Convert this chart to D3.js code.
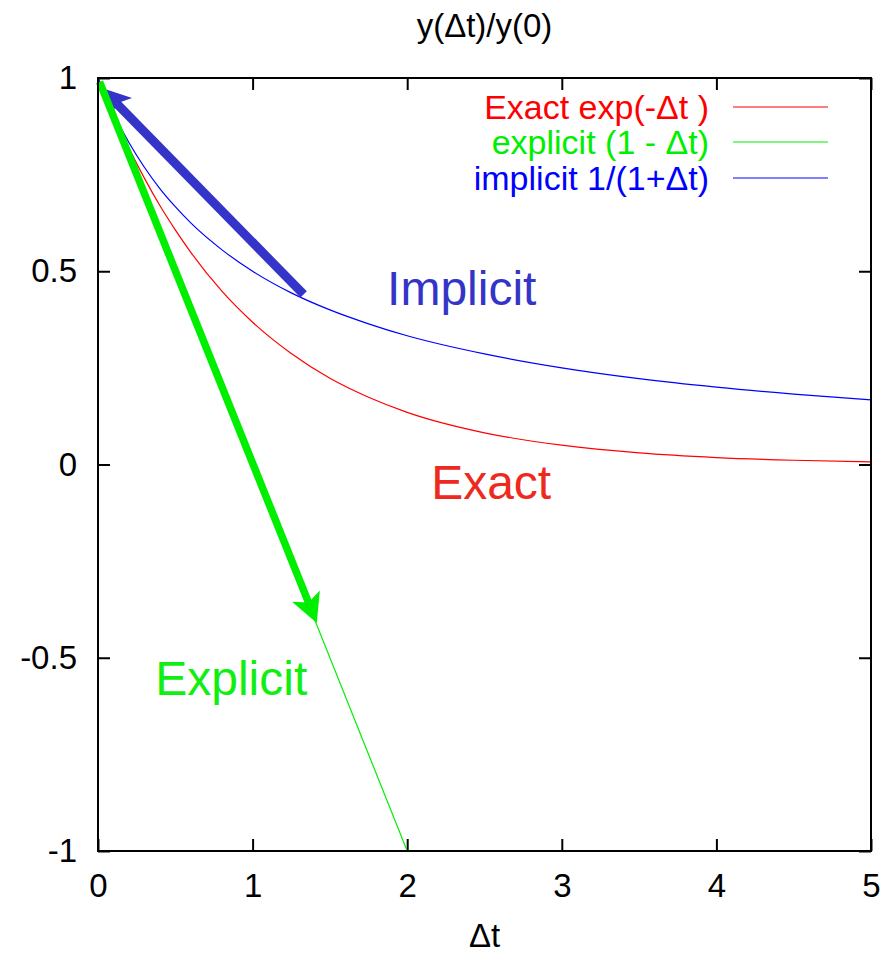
<!DOCTYPE html>
<html>
<head>
<meta charset="utf-8">
<script src="https://cdn.jsdelivr.net/npm/d3@7"></script>
<style>
  html, body { margin: 0; padding: 0; background: #ffffff; }
  svg { display: block; font-family: "Liberation Sans", Arial, Helvetica, sans-serif; }
</style>
</head>
<body>
<svg id="chart" width="890" height="953"></svg>
<script>
// Sampled Δt values and the three decay curves y(Δt)/y(0)
const dt       = [0, 0.1, 0.2, 0.3, 0.4, 0.5, 0.6, 0.8, 1.0, 1.25, 1.5, 1.75, 2.0, 2.5, 3.0, 3.5, 4.0, 4.5, 5.0];
const exact    = [1, 0.905, 0.819, 0.741, 0.670, 0.607, 0.549, 0.449, 0.368, 0.287, 0.223, 0.174, 0.135, 0.082, 0.050, 0.030, 0.018, 0.011, 0.007];
const implicit = [1, 0.909, 0.833, 0.769, 0.714, 0.667, 0.625, 0.556, 0.500, 0.444, 0.400, 0.364, 0.333, 0.286, 0.250, 0.222, 0.200, 0.182, 0.167];
const explicitDt = [0, 2];
const explicitY  = [1, -1];

// Axis ticks
const xTicks = [0, 1, 2, 3, 4, 5];
const xTickLabels = ["0", "1", "2", "3", "4", "5"];
const yTicks = [-1, -0.5, 0, 0.5, 1];
const yTickLabels = ["-1", "-0.5", "0", "0.5", "1"];

// Legend entries
const legendLabels = ["Exact exp(-\u0394t )", "explicit (1 - \u0394t)", "implicit 1/(1+\u0394t)"];
const legendColors = ["#ff0000", "#00ee00", "#0000ff"];

// Annotation arrows: [fromΔt, fromY, toΔt, toY]
const implicitArrow = [1.33, 0.44, 0.02, 0.975];
const explicitArrow = [0.01, 0.99, 1.415, -0.41];

// Annotation labels: [text, Δt, y, colour]
const annotations = [
  ["Implicit", 1.87, 0.413, "#3434c8"],
  ["Exact", 2.155, -0.089, "#ee2a1e"],
  ["Explicit", 0.37, -0.596, "#11ee11"]
];

const svg = d3.select("#chart");
const plotL = 98, plotR = 871, plotT = 78, plotB = 851;

const x = d3.scaleLinear().domain([0, 5]).range([plotL, plotR]);
const y = d3.scaleLinear().domain([-1, 1]).range([plotB, plotT]);

const FS = 33;

// Title and x label
svg.append("text").attr("x", (plotL + plotR) / 2).attr("y", 37)
  .attr("text-anchor", "middle").attr("font-size", FS).text("y(\u0394t)/y(0)");
svg.append("text").attr("x", (plotL + plotR) / 2).attr("y", 947)
  .attr("text-anchor", "middle").attr("font-size", FS).text("\u0394t");

// Axes with inward ticks, mirrored on top and right
const tickLen = 12;
const gx = svg.append("g").attr("transform", `translate(0,${plotB})`)
  .call(d3.axisBottom(x).tickValues(xTicks).tickFormat((d, i) => xTickLabels[i])
    .tickSizeInner(-tickLen).tickSizeOuter(0).tickPadding(23));
const gy = svg.append("g").attr("transform", `translate(${plotL},0)`)
  .call(d3.axisLeft(y).tickValues(yTicks).tickFormat((d, i) => yTickLabels[i])
    .tickSizeInner(-tickLen).tickSizeOuter(0).tickPadding(21));
const gt = svg.append("g").attr("transform", `translate(0,${plotT})`)
  .call(d3.axisTop(x).tickValues(xTicks).tickFormat("").tickSizeInner(-tickLen).tickSizeOuter(0));
const gr = svg.append("g").attr("transform", `translate(${plotR},0)`)
  .call(d3.axisRight(y).tickValues(yTicks).tickFormat("").tickSizeInner(-tickLen).tickSizeOuter(0));

[gx, gy, gt, gr].forEach(g => {
  g.select(".domain").remove();
  g.selectAll(".tick line").attr("stroke", "#000").attr("stroke-width", 2);
  g.selectAll(".tick text").attr("font-size", FS).attr("fill", "#000")
    .attr("font-family", "'Liberation Sans', Arial, Helvetica, sans-serif");
});

// Clip for curves
svg.append("clipPath").attr("id", "plot-clip")
  .append("rect").attr("x", plotL).attr("y", plotT).attr("width", plotR - plotL).attr("height", plotB - plotT);

const line = d3.line().x(d => x(d[0])).y(d => y(d[1])).curve(d3.curveMonotoneX);
const curves = svg.append("g").attr("clip-path", "url(#plot-clip)");

curves.append("path").datum(dt.map((d, i) => [d, exact[i]]))
  .attr("d", line).attr("fill", "none").attr("stroke", "#ff0000").attr("stroke-width", 1.2);
curves.append("path").datum(explicitDt.map((d, i) => [d, explicitY[i]]))
  .attr("d", d3.line().x(d => x(d[0])).y(d => y(d[1])))
  .attr("fill", "none").attr("stroke", "#00ee00").attr("stroke-width", 1.2);
curves.append("path").datum(dt.map((d, i) => [d, implicit[i]]))
  .attr("d", line).attr("fill", "none").attr("stroke", "#0000ff").attr("stroke-width", 1.2);

// Thick annotation arrows with filled heads
function arrow(a, color, width) {
  const x0 = x(a[0]), y0 = y(a[1]), x1 = x(a[2]), y1 = y(a[3]);
  const len = Math.hypot(x1 - x0, y1 - y0);
  const ux = (x1 - x0) / len, uy = (y1 - y0) / len;
  const px = -uy, py = ux;
  const headLen = 29, halfW = 15, notch = 22;
  const g = svg.append("g");
  g.append("line")
    .attr("x1", x0).attr("y1", y0)
    .attr("x2", x1 - ux * notch).attr("y2", y1 - uy * notch)
    .attr("stroke", color).attr("stroke-width", width);
  const pts = [
    [x1, y1],
    [x1 - ux * headLen + px * halfW, y1 - uy * headLen + py * halfW],
    [x1 - ux * notch, y1 - uy * notch],
    [x1 - ux * headLen - px * halfW, y1 - uy * headLen - py * halfW]
  ];
  g.append("polygon").attr("points", pts.map(p => p.join(",")).join(" ")).attr("fill", color);
}
arrow(implicitArrow, "#3434c8", 9);
arrow(explicitArrow, "#00ee00", 7.5);

// Annotation labels
svg.selectAll("text.annot").data(annotations).join("text")
  .attr("class", "annot")
  .attr("x", d => x(d[1])).attr("y", d => y(d[2]))
  .attr("font-size", 48).attr("fill", d => d[3]).text(d => d[0]);

// Frame
svg.append("rect").attr("x", plotL).attr("y", plotT).attr("width", plotR - plotL).attr("height", plotB - plotT)
  .attr("fill", "none").attr("stroke", "#000").attr("stroke-width", 2);

// Legend
const legendRowY = [107, 142, 178];
const legend = svg.append("g");
legendLabels.forEach((lab, i) => {
  legend.append("text").attr("x", 709).attr("y", legendRowY[i]).attr("dy", "0.35em")
    .attr("text-anchor", "end").attr("font-size", 34).attr("fill", legendColors[i]).text(lab);
  legend.append("line").attr("x1", 733).attr("x2", 828)
    .attr("y1", legendRowY[i]).attr("y2", legendRowY[i])
    .attr("stroke", legendColors[i]).attr("stroke-width", 1.2);
});
</script>
</body>
</html>
